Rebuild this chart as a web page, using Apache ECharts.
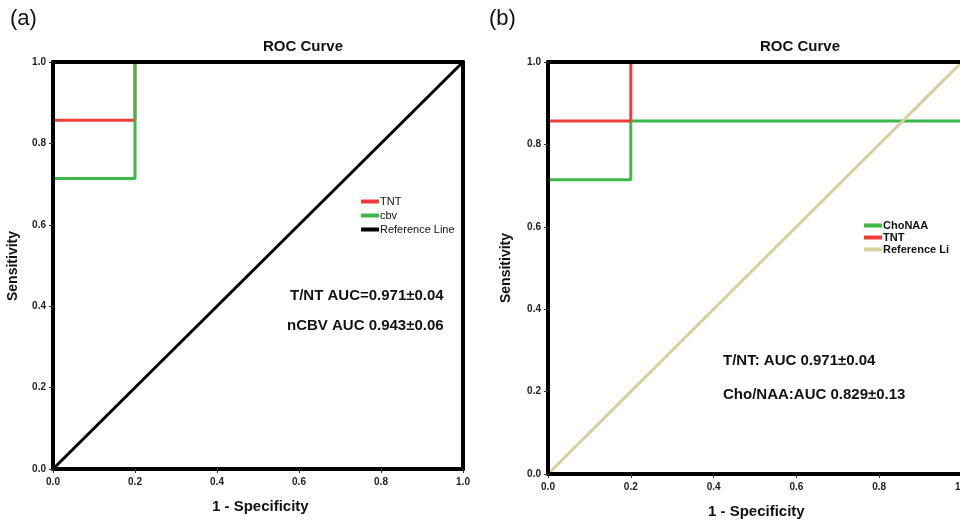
<!DOCTYPE html>
<html>
<head>
<meta charset="utf-8">
<script src="https://cdn.jsdelivr.net/npm/echarts@6/dist/echarts.min.js"></script>
<style>html,body{margin:0;padding:0;background:#fff}#c{width:960px;height:523px}</style>
</head>
<body>
<div id="c"></div>
<script>
// Panel (a)
const tntA_fpr = [0, 0, 0.2, 0.2, 1];
const tntA_sens = [0, 0.857, 0.857, 1, 1];
const cbvA_fpr = [0, 0, 0.2, 0.2, 1];
const cbvA_sens = [0, 0.714, 0.714, 1, 1];
const refA_fpr = [0, 1];
const refA_sens = [0, 1];
// Panel (b)
const choNAA_fpr = [0, 0, 0.2, 0.2, 1];
const choNAA_sens = [0, 0.714, 0.714, 0.857, 0.857];
const tntB_fpr = [0, 0, 0.2, 0.2, 1];
const tntB_sens = [0, 0.857, 0.857, 1, 1];
const refB_fpr = [0, 1];
const refB_sens = [0, 1];

const legendA = ['TNT', 'cbv', 'Reference Line'];
const legendB = ['ChoNAA', 'TNT', 'Reference Li'];
const annotA = ['T/NT AUC=0.971\u00b10.04', 'nCBV AUC 0.943\u00b10.06'];
const annotB = ['T/NT: AUC 0.971\u00b10.04', 'Cho/NAA:AUC 0.829\u00b10.13'];

const RED = '#ee3e3b', GREEN = '#3fb84a', TAN = '#d6d09c', BLACK = '#000';
const FONT = 'Liberation Sans, Arial, sans-serif';

const pts = (xs, ys) => xs.map((x, i) => [x, ys[i]]);

function mainX(gi) {
  return {
    type: 'value', gridIndex: gi, min: 0, max: 1, interval: 0.2, position: 'bottom', z: 5,
    axisLine: {show: true, onZero: false, lineStyle: {color: BLACK, width: 4}},
    axisTick: {show: true, inside: false, length: 4, lineStyle: {color: '#333', width: 1}},
    axisLabel: {margin: 8, fontSize: 10, fontWeight: 'bold', color: '#222', fontFamily: FONT,
      formatter: v => v.toFixed(1)},
    splitLine: {show: false}
  };
}
function mainY(gi) {
  return {
    type: 'value', gridIndex: gi, min: 0, max: 1, interval: 0.2, position: 'left', z: 5,
    axisLine: {show: true, onZero: false, lineStyle: {color: BLACK, width: 4}},
    axisTick: {show: true, inside: false, length: 4, lineStyle: {color: '#333', width: 1}},
    axisLabel: {margin: 7, fontSize: 10, fontWeight: 'bold', color: '#222', fontFamily: FONT,
      formatter: v => v.toFixed(1)},
    splitLine: {show: false}
  };
}
function frameX(gi) {
  return {type: 'value', gridIndex: gi, min: 0, max: 1, position: 'top', z: 5,
    axisLine: {show: true, onZero: false, lineStyle: {color: BLACK, width: 4}},
    axisTick: {show: false}, axisLabel: {show: false}, splitLine: {show: false}};
}
function frameY(gi) {
  return {type: 'value', gridIndex: gi, min: 0, max: 1, position: 'right', z: 5,
    axisLine: {show: true, onZero: false, lineStyle: {color: BLACK, width: 4}},
    axisTick: {show: false}, axisLabel: {show: false}, splitLine: {show: false}};
}
function line(name, xs, ys, color, xi, yi, z) {
  return {type: 'line', name, data: pts(xs, ys), xAxisIndex: xi, yAxisIndex: yi,
    showSymbol: false, symbol: 'none', animation: false, z: z,
    lineStyle: {color, width: 3}, itemStyle: {color}};
}
function txt(text, left, top, size, weight, extra) {
  return Object.assign({type: 'text', left, top, z: 100,
    style: {text, fontSize: size, fontWeight: weight, fill: '#111', fontFamily: FONT}}, extra || {});
}

const chart = echarts.init(document.getElementById('c'));
chart.setOption({
  animation: false,
  backgroundColor: '#fff',
  grid: [
    {left: 53, top: 62, width: 410, height: 407, outerBoundsMode: 'none', containLabel: false},
    {left: 548, top: 62, width: 414, height: 412, outerBoundsMode: 'none', containLabel: false}
  ],
  xAxis: [mainX(0), frameX(0), mainX(1), frameX(1)],
  yAxis: [mainY(0), frameY(0), mainY(1), frameY(1)],
  legend: [
    {data: legendA, orient: 'vertical', left: 356, top: 191, itemWidth: 18, itemHeight: 4, itemGap: 3,
      icon: 'rect', textStyle: {fontSize: 11, color: '#111', fontFamily: FONT, padding: [0,0,0,-4]}, selectedMode: false},
    {data: legendB, orient: 'vertical', left: 859, top: 215, itemWidth: 18, itemHeight: 4, itemGap: 1,
      icon: 'rect', textStyle: {fontSize: 11, fontWeight: 'bold', color: '#111', fontFamily: FONT, padding: [0,0,0,-4]}, selectedMode: false}
  ],
  series: [
    line('TNT', tntA_fpr, tntA_sens, RED, 0, 0, 2),
    line('cbv', cbvA_fpr, cbvA_sens, GREEN, 0, 0, 2),
    line('Reference Line', refA_fpr, refA_sens, BLACK, 0, 0, 2),
    line('ChoNAA', choNAA_fpr, choNAA_sens, GREEN, 2, 2, 2),
    line('TNT', tntB_fpr, tntB_sens, RED, 2, 2, 2),
    line('Reference Li', refB_fpr, refB_sens, TAN, 2, 2, 2)
  ],
  graphic: [
    txt('(a)', 10, 8, 22, 'normal'),
    txt('(b)', 489, 8, 22, 'normal'),
    txt('ROC Curve', 263, 39, 15, 'bold'),
    txt('ROC Curve', 760, 39, 15, 'bold'),
    txt('1 - Specificity', 212, 499, 15, 'bold'),
    txt('1 - Specificity', 708, 504, 15, 'bold'),
    {type: 'text', x: 13, y: 266, rotation: Math.PI / 2, z: 100,
      style: {text: 'Sensitivity', fontSize: 14, fontWeight: 'bold', fill: '#111', fontFamily: FONT, align: 'center', verticalAlign: 'middle'}},
    {type: 'text', x: 506, y: 268, rotation: Math.PI / 2, z: 100,
      style: {text: 'Sensitivity', fontSize: 14, fontWeight: 'bold', fill: '#111', fontFamily: FONT, align: 'center', verticalAlign: 'middle'}},
    txt(annotA[0], 290, 288, 15, 'bold'),
    txt(annotA[1], 287, 318, 15, 'bold'),
    txt(annotB[0], 723, 353, 15, 'bold'),
    txt(annotB[1], 723, 387, 15, 'bold')
  ]
});
</script>
</body>
</html>
